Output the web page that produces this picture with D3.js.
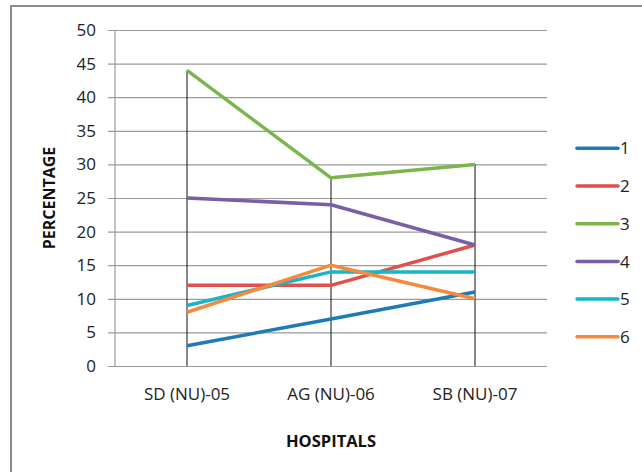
<!DOCTYPE html>
<html>
<head>
<meta charset="utf-8">
<script src="https://cdn.jsdelivr.net/npm/d3@7"></script>
<style>
  html, body { margin: 0; padding: 0; background: #fff; }
  svg { display: block; font-family: "Open Sans", sans-serif; }
</style>
</head>
<body>
<svg id="chart" width="642" height="472"></svg>
<script>
// Hospitals along the category axis
const hospitals = ["SD (NU)-05", "AG (NU)-06", "SB (NU)-07"];
// Series names shown in the legend
const seriesNames = ["1", "2", "3", "4", "5", "6"];
// Percentage per hospital for each series
const series1 = [3, 7, 11];
const series2 = [12, 12, 18];
const series3 = [44, 28, 30];
const series4 = [25, 24, 18];
const series5 = [9, 14, 14];
const series6 = [8, 15, 10];
const yTicks = [0, 5, 10, 15, 20, 25, 30, 35, 40, 45, 50];
const colors = ["#1f7bb6", "#e0504c", "#7db54d", "#7a5ea6", "#17b5c7", "#f58a3d"];

const allSeries = [series1, series2, series3, series4, series5, series6];

const svg = d3.select("#chart");

// Outer chart frame
svg.append("rect")
  .attr("x", 11).attr("y", 6)
  .attr("width", 640).attr("height", 480)
  .attr("fill", "#fff")
  .attr("stroke", "#8c8c8c")
  .attr("stroke-width", 2);

const plot = { left: 115, right: 547, top: 30, bottom: 366 };

const x = d3.scaleBand().domain(hospitals).range([plot.left, plot.right]);
const y = d3.scaleLinear().domain([0, 50]).range([plot.bottom, plot.top]);
const cx = d => x(d) + x.bandwidth() / 2;

// Horizontal gridlines with short ticks to the left of the axis
const yAxis = d3.axisLeft(y).tickValues(yTicks).tickSize(plot.right - plot.left + 7).tickPadding(12);
const gY = svg.append("g")
  .attr("transform", `translate(${plot.right},0)`)
  .call(yAxis);
gY.select(".domain").remove();
gY.selectAll(".tick line").attr("stroke", "#9a9a9a").attr("stroke-width", 1.2);
gY.selectAll(".tick text")
  .attr("fill", "#222")
  .style("font-size", "17px")
  .style("font-family", "'Open Sans', sans-serif");

// Vertical axis line
svg.append("line")
  .attr("x1", plot.left).attr("x2", plot.left)
  .attr("y1", plot.top).attr("y2", plot.bottom)
  .attr("stroke", "#9a9a9a").attr("stroke-width", 1.2);

// Category labels
const xAxis = d3.axisBottom(x).tickSize(0).tickPadding(22);
const gX = svg.append("g")
  .attr("transform", `translate(0,${plot.bottom})`)
  .call(xAxis);
gX.select(".domain").remove();
gX.selectAll(".tick text")
  .attr("fill", "#222")
  .style("font-size", "17px")
  .style("font-family", "'Open Sans', sans-serif");

// Drop lines from the highest point of each category to the axis
hospitals.forEach((h, i) => {
  const maxVal = d3.max(allSeries, s => s[i]);
  svg.append("line")
    .attr("x1", cx(h)).attr("x2", cx(h))
    .attr("y1", y(maxVal)).attr("y2", y(0))
    .attr("stroke", "#111").attr("stroke-width", 1);
});

// Series lines
const line = d3.line()
  .x((d, i) => cx(hospitals[i]))
  .y(d => y(d));

allSeries.forEach((s, k) => {
  svg.append("path")
    .datum(s)
    .attr("d", line)
    .attr("fill", "none")
    .attr("stroke", colors[k])
    .attr("stroke-width", 3.5)
    .attr("stroke-linejoin", "round");
});

// Legend
const legend = svg.append("g");
seriesNames.forEach((name, k) => {
  const ly = 148.3 + k * 37.7;
  legend.append("line")
    .attr("x1", 577).attr("x2", 618)
    .attr("y1", ly).attr("y2", ly)
    .attr("stroke", colors[k]).attr("stroke-width", 3.5)
    .attr("stroke-linecap", "round");
  legend.append("text")
    .attr("x", 620).attr("y", ly)
    .attr("dy", "0.36em")
    .attr("fill", "#222")
    .style("font-size", "17px")
    .text(name);
});

// Axis titles
svg.append("text")
  .attr("transform", `translate(55,${(plot.top + plot.bottom) / 2}) rotate(-90)`)
  .attr("text-anchor", "middle")
  .attr("fill", "#111")
  .style("font-size", "16px")
  .style("font-weight", "bold")
  .text("PERCENTAGE");

svg.append("text")
  .attr("x", cx(hospitals[1]))
  .attr("y", 447)
  .attr("text-anchor", "middle")
  .attr("fill", "#111")
  .style("font-size", "16.5px")
  .style("font-weight", "bold")
  .text("HOSPITALS");
</script>
</body>
</html>
